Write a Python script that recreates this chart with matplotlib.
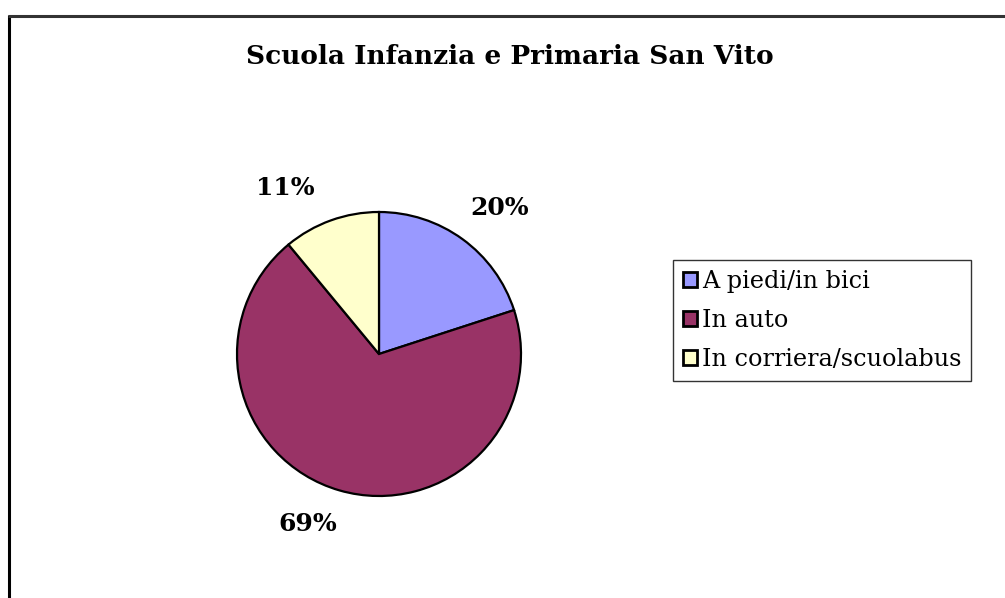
import matplotlib.pyplot as plt
from matplotlib.lines import Line2D

categorie = ['A piedi/in bici', 'In auto', 'In corriera/scuolabus']
percentuali = [20, 69, 11]
colori = ['#9999FF', '#993366', '#FFFFCC']

# posizione delle etichette percentuali (unità del raggio)
pos_etichette = [(0.85, 1.03), (-0.50, -1.20), (-0.66, 1.17)]

W, H = 1005, 598
fig = plt.figure(figsize=(W / 100, H / 100), dpi=100)
fig.patch.set_facecolor('white')

# cornice del grafico (solo lato sinistro e superiore visibili)
fig.add_artist(Line2D([8.5 / W, 8.5 / W], [0, 1 - 15 / H], transform=fig.transFigure,
                      color='black', linewidth=2.2, solid_capstyle='butt'))
fig.add_artist(Line2D([7.5 / W, 1], [1 - 15.5 / H, 1 - 15.5 / H], transform=fig.transFigure,
                      color='#333333', linewidth=2.2, solid_capstyle='butt'))

# area della torta: centro (379, 354), raggio 142 px
cx, cy, r = 379, 354, 142
ax = fig.add_axes([(cx - r) / W, (H - cy - r) / H, 2 * r / W, 2 * r / H])

wedges, testi, pct = ax.pie(percentuali, colors=colori, startangle=90, counterclock=False,
                            autopct='%d%%', pctdistance=1.33,
                            wedgeprops={'edgecolor': 'black', 'linewidth': 1.6})
for t, p in zip(pct, pos_etichette):
    t.set_position(p)
    t.set_fontfamily('DejaVu Serif')
    t.set_fontweight('bold')
    t.set_fontsize(18)
    t.set_color('black')
ax.set_xlim(-1, 1)
ax.set_ylim(-1, 1)
ax.set_aspect('equal')

fig.text(510 / W, 1 - 57 / H, 'Scuola Infanzia e Primaria San Vito', ha='center', va='center',
         fontfamily='DejaVu Serif', fontweight='bold', fontsize=19)

leg = fig.legend(wedges, categorie, loc='upper left', bbox_to_anchor=(673 / W, 1 - 260 / H),
                 prop={'family': 'DejaVu Serif', 'size': 17.2}, frameon=True, fancybox=False,
                 edgecolor='black', handlelength=0.6, handleheight=0.6, handletextpad=0.2,
                 borderpad=0.4, labelspacing=0.68, borderaxespad=0)
leg.get_frame().set_linewidth(1.0)
for h in leg.legend_handles:
    h.set_linewidth(2)

fig.savefig('out.png', dpi=100)
